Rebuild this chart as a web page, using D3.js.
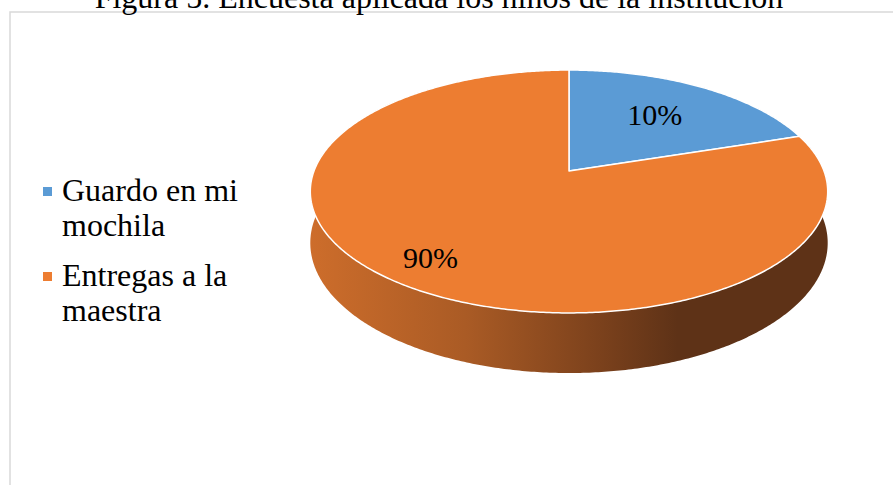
<!DOCTYPE html>
<html>
<head>
<meta charset="utf-8">
<script src="https://cdn.jsdelivr.net/npm/d3@7/dist/d3.min.js"></script>
<style>
body{margin:0;background:#fff}
svg{display:block}
text{font-family:"Liberation Serif","Times New Roman",serif;fill:#000}
</style>
</head>
<body>
<div class="plot"></div>
<script>
var title = 'Figura 5. Encuesta aplicada los niños de la institución';
var categories = ['Guardo en mi mochila', 'Entregas a la maestra'];
var legendLines = [['Guardo en mi', 'mochila'], ['Entregas a la', 'maestra']];
var share = [20, 80];            // slice sizes as they are drawn
var labelText = ['10%', '90%'];  // labels as printed on the slices
var colors = ['#5b9bd5', '#ed7d31'];

var W = 893, H = 485;

var svg = d3.select('.plot')
    .append('svg')
    .attr('width', W)
    .attr('height', H);

// frame + title
svg.append('rect')
    .attr('x', 10).attr('y', 12)
    .attr('width', 900).attr('height', 490)
    .attr('fill', 'none')
    .attr('stroke', '#d9d9d9')
    .attr('stroke-width', 1.5);

svg.append('text')
    .attr('x', 439).attr('y', 8)
    .attr('text-anchor', 'middle')
    .style('font-size', '32px')
    .text(title);

// simple perspective view of a tilted disc
var cx = 569, cy = 171, f = 1340, D = 5.255,
    sinP = 0.4627, cosP = Math.sqrt(1 - sinP * sinP), thick = 0.221;

function project(a, r, y){
    var X = r * Math.sin(a), Z = -r * Math.cos(a);
    var yc = y * cosP - Z * sinP,
        d = D - Z * cosP;
    return [cx + f * X / d, cy - f * yc / d];
}

function rim(a0, a1, y){
    var n = Math.max(2, Math.ceil(Math.abs(a1 - a0) / 0.01));
    return d3.range(n + 1).map(function(i){
        return project(a0 + (a1 - a0) * i / n, 1, y);
    });
}

var line = d3.line();

var pie = d3.pie().sort(null).startAngle(0).endAngle(2 * Math.PI);
var arcs = pie(share);

// side shading
var grad = svg.append('defs')
    .append('linearGradient')
    .attr('id', 'side')
    .attr('gradientUnits', 'userSpaceOnUse')
    .attr('x1', 310).attr('x2', 828)
    .attr('y1', 0).attr('y2', 0);
grad.append('stop').attr('offset', 0).attr('stop-color', '#cd6d2b');
grad.append('stop').attr('offset', 0.3).attr('stop-color', '#aa5b25');
grad.append('stop').attr('offset', 0.56).attr('stop-color', '#7b411c');
grad.append('stop').attr('offset', 0.71).attr('stop-color', '#5e3217');
grad.append('stop').attr('offset', 1).attr('stop-color', '#5e3217');

var pieG = svg.append('g');

pieG.selectAll('path.wall')
    .data(arcs)
    .enter()
    .append('path')
    .attr('class', 'wall')
    .attr('d', function(d){
        var top = rim(d.startAngle, d.endAngle, 0),
            bot = rim(d.endAngle, d.startAngle, -thick);
        return line(top.concat(bot)) + 'Z';
    })
    .attr('fill', function(d, i){ return i == 0 ? '#3e6a93' : 'url(#side)'; });

pieG.selectAll('path.top')
    .data(arcs)
    .enter()
    .append('path')
    .attr('class', 'top')
    .attr('d', function(d){
        return line([project(0, 0, 0)].concat(rim(d.startAngle, d.endAngle, 0))) + 'Z';
    })
    .attr('fill', function(d, i){ return colors[i]; })
    .attr('stroke', '#fff')
    .attr('stroke-width', 1.5)
    .attr('stroke-linejoin', 'round');

// data labels
var labelR = [0.62, 0.82];
pieG.selectAll('text.lbl')
    .data(arcs)
    .enter()
    .append('text')
    .attr('class', 'lbl')
    .attr('text-anchor', 'middle')
    .attr('dy', '0.3em')
    .style('font-size', '30px')
    .attr('x', function(d, i){ return project((d.startAngle + d.endAngle) / 2, labelR[i], 0)[0]; })
    .attr('y', function(d, i){ return project((d.startAngle + d.endAngle) / 2, labelR[i], 0)[1]; })
    .text(function(d, i){ return labelText[i]; });

// legend
var leg = svg.selectAll('g.leg')
    .data(categories)
    .enter()
    .append('g')
    .attr('class', 'leg')
    .attr('transform', function(d, i){ return 'translate(43,' + (187 + i * 85) + ')'; });

leg.append('rect')
    .attr('width', 9).attr('height', 9)
    .attr('fill', function(d, i){ return colors[i]; });

leg.each(function(d, i){
    d3.select(this).selectAll('text')
        .data(legendLines[i])
        .enter()
        .append('text')
        .attr('x', 19)
        .attr('y', function(t, j){ return 14 + j * 35; })
        .style('font-size', '32px')
        .text(function(t){ return t; });
});
</script>
</body>
</html>
